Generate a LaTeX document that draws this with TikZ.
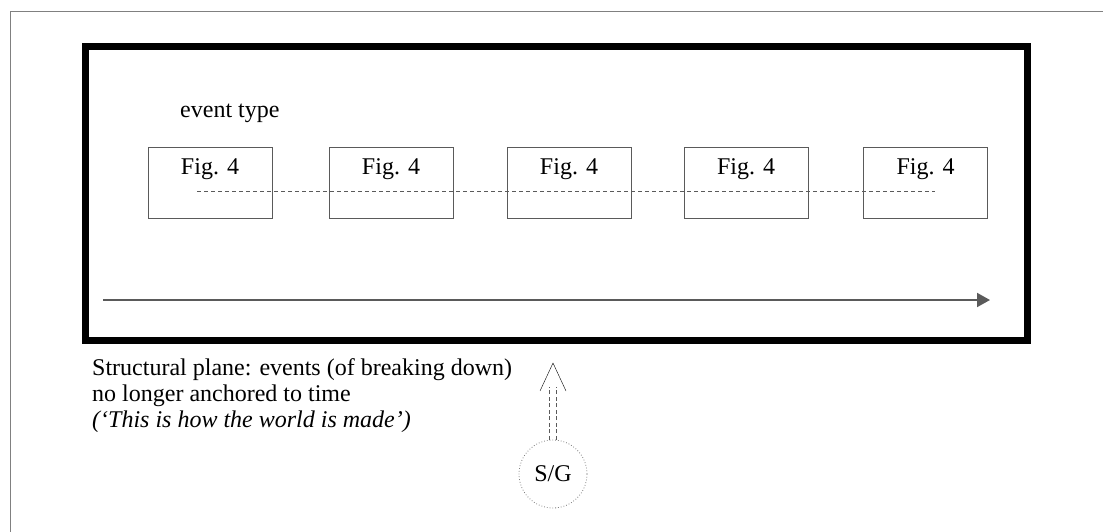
\documentclass[tikz,border=0pt]{standalone}
\usepackage{fontspec}
\setmainfont{Liberation Serif}
\usetikzlibrary{arrows.meta}
\definecolor{lineGray}{RGB}{90, 90, 90}

\tikzset{
  figbox/.style={draw=lineGray, thick, minimum width=124pt, inner ysep=0pt,
    text height=28pt, text depth=43pt, font=\fontsize{24}{26}\selectfont},
  plaintext/.style={inner sep=0pt, font=\fontsize{24}{26}\selectfont},
  timeline/.style={lineGray, dashed, dash pattern=on 4pt off 3pt, thin}
}

\begin{document}
\begin{tikzpicture}[x=1pt, y=-1pt]
        \useasboundingbox[fill=white] (0,0) rectangle (1103,532);
        % page edge, only top and left show
        \draw[gray, thick] (10,532) -- (10,11) -- (1103,11);
        % structural plane
        \draw[line width=7pt] (85.5,47) rectangle (1027,340);
        \node[plaintext, anchor=base west] (evtype) at (180,118) {event type};
        \foreach \x [count=\i] in {210,391,569,746,925.5}
          \node[figbox] (fig\i) at (\x,182.5) {Fig. 4};
        % dashed line through the boxes
        \draw[timeline] ([shift={(-13,8.5)}]fig1.center) -- ([shift={(9.5,8.5)}]fig5.center);
        % time axis
        \coordinate (tstart) at (103,300);
        \coordinate (tend) at (990,300);
        \draw[lineGray, line width=2pt, -{Triangle[length=13pt,width=14pt]}] (tstart) -- (tend);
        % base of a multi-line node is its last line
        \node[plaintext, anchor=base west, align=left] (caption) at (92,427)
          {Structural plane: events (of breaking down)\\no longer anchored to time\\\textit{(‘This is how the world is made’)}};
        % S/G below
        \node[draw=gray, dotted, thick, circle, minimum size=68pt, inner sep=0pt,
          font=\fontsize{24}{26}\selectfont] (sg) at (553,474) {S/G};
        \coordinate (tip) at (553,363);
        \foreach \dx in {-3.5,3.5}
          \draw[lineGray, dashed, dash pattern=on 4pt off 2.5pt] ([xshift=\dx pt]sg.north) -- ([xshift=\dx pt, yshift=-24pt]tip);
        \draw[thin] ([shift={(-13,28)}]tip) -- (tip) -- ([shift={(13,28)}]tip);
      \end{tikzpicture}
\end{document}
